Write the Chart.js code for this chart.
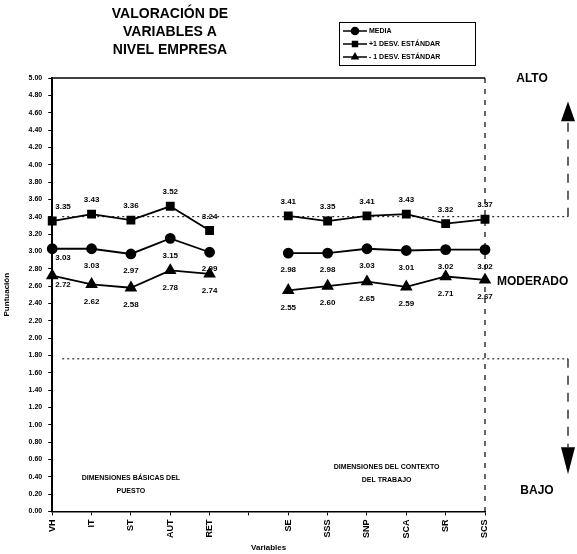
<!DOCTYPE html>
<html>
<head>
<meta charset="utf-8">
<script src="https://cdn.jsdelivr.net/npm/chart.js@4.4.1/dist/chart.umd.min.js"></script>
<style>
  html, body { margin: 0; padding: 0; background: #fff; }
  #wrap { width: 577px; height: 554px; }
</style>
</head>
<body>
<div id="wrap"><canvas id="chart"></canvas></div>
<script>
// categories (one empty slot separates the two groups)
const variables = ['VH', 'IT', 'ST', 'AUT', 'RET', '', 'SE', 'SSS', 'SNP', 'SCA', 'SR', 'SCS'];
const media = [3.03, 3.03, 2.97, 3.15, 2.99, null, 2.98, 2.98, 3.03, 3.01, 3.02, 3.02];
const masDesv = [3.35, 3.43, 3.36, 3.52, 3.24, null, 3.41, 3.35, 3.41, 3.43, 3.32, 3.37];
const menosDesv = [2.72, 2.62, 2.58, 2.78, 2.74, null, 2.55, 2.60, 2.65, 2.59, 2.71, 2.67];
const seriesNames = ['MEDIA', '+1 DESV. ESTÁNDAR', '- 1 DESV. ESTÁNDAR'];
const titleLines = ['VALORACIÓN DE', 'VARIABLES A', 'NIVEL EMPRESA'];
const zoneAlto = 3.40;
const zoneBajo = 1.76;

const FONT = '"Liberation Sans", Arial, sans-serif';

const decor = {
  id: 'decor',
  afterDatasetsDraw(chart) {
    const ctx = chart.ctx;
    const a = chart.chartArea;
    const y = chart.scales.y;
    const x = chart.scales.x;
    const farX = a.right + 83;
    ctx.save();
    ctx.strokeStyle = '#000';
    ctx.fillStyle = '#000';

    // top border
    ctx.lineWidth = 1.5;
    ctx.beginPath();
    ctx.moveTo(a.left, a.top);
    ctx.lineTo(a.right, a.top);
    ctx.stroke();

    // right dashed border
    ctx.lineWidth = 1.2;
    ctx.setLineDash([5, 6]);
    ctx.beginPath();
    ctx.moveTo(a.right, a.top);
    ctx.lineTo(a.right, a.bottom);
    ctx.stroke();

    // zone lines
    ctx.lineWidth = 1;
    ctx.setLineDash([2, 3]);
    [zoneAlto, zoneBajo].forEach(v => {
      ctx.beginPath();
      ctx.moveTo(a.left + 10, y.getPixelForValue(v));
      ctx.lineTo(farX, y.getPixelForValue(v));
      ctx.stroke();
    });

    // vertical arrow stems
    ctx.setLineDash([9, 8]);
    ctx.lineWidth = 1.2;
    ctx.beginPath();
    ctx.moveTo(farX, y.getPixelForValue(zoneAlto));
    ctx.lineTo(farX, y.getPixelForValue(4.5));
    ctx.moveTo(farX, y.getPixelForValue(zoneBajo));
    ctx.lineTo(farX, y.getPixelForValue(0.74));
    ctx.stroke();
    ctx.setLineDash([]);

    // arrow heads
    ctx.beginPath();
    ctx.moveTo(farX, y.getPixelForValue(4.73));
    ctx.lineTo(farX - 7, y.getPixelForValue(4.5));
    ctx.lineTo(farX + 7, y.getPixelForValue(4.5));
    ctx.closePath();
    ctx.fill();
    ctx.beginPath();
    ctx.moveTo(farX, y.getPixelForValue(0.43));
    ctx.lineTo(farX - 7, y.getPixelForValue(0.74));
    ctx.lineTo(farX + 7, y.getPixelForValue(0.74));
    ctx.closePath();
    ctx.fill();

    // zone names
    ctx.font = 'bold 12px ' + FONT;
    ctx.textBaseline = 'middle';
    ctx.textAlign = 'center';
    ctx.fillText('ALTO', a.right + 47, y.getPixelForValue(4.99));
    ctx.fillText('BAJO', a.right + 52, y.getPixelForValue(0.24));
    ctx.textAlign = 'left';
    ctx.fillText('MODERADO', a.right + 12, y.getPixelForValue(2.65));

    // group captions
    ctx.font = 'bold 7px ' + FONT;
    ctx.textAlign = 'center';
    const g1 = (x.getPixelForValue(0) + x.getPixelForValue(4)) / 2;
    const g2 = (x.getPixelForValue(6) + x.getPixelForValue(11)) / 2;
    ctx.fillText('DIMENSIONES BÁSICAS DEL', g1, y.getPixelForValue(0.38));
    ctx.fillText('PUESTO', g1, y.getPixelForValue(0.23));
    ctx.fillText('DIMENSIONES DEL CONTEXTO', g2, y.getPixelForValue(0.51));
    ctx.fillText('DEL TRABAJO', g2, y.getPixelForValue(0.36));

    // value labels
    ctx.font = 'bold 8px ' + FONT;
    chart.data.datasets.forEach((ds, di) => {
      const meta = chart.getDatasetMeta(di);
      meta.data.forEach((pt, i) => {
        const v = ds.data[i];
        if (v === null) return;
        const dy = di === 1 ? -14 : (i === 0 ? 9 : 17);
        ctx.textAlign = i === 0 ? 'left' : 'center';
        const px = i === 0 ? pt.x + 3 : pt.x;
        ctx.fillText(v.toFixed(2), px, pt.y + dy);
      });
    });

    // title
    ctx.font = 'bold 14px ' + FONT;
    ctx.textAlign = 'center';
    titleLines.forEach((t, i) => ctx.fillText(t, 170, 14 + i * 18));

    // legend box
    ctx.lineWidth = 1;
    ctx.strokeRect(339.5, 22.5, 136, 43);
    ctx.font = 'bold 7px ' + FONT;
    ctx.textAlign = 'left';
    chart.data.datasets.forEach((ds, di) => {
      const ly = 31 + di * 13;
      ctx.lineWidth = 1.5;
      ctx.beginPath();
      ctx.moveTo(343, ly);
      ctx.lineTo(367, ly);
      ctx.stroke();
      Chart.helpers.drawPoint(ctx, { pointStyle: ds.pointStyle, radius: 3.5, borderWidth: 1 }, 355, ly);
      ctx.fill();
      ctx.fillText(seriesNames[di], 369, ly);
    });
    ctx.restore();
  }
};

new Chart(document.getElementById('chart'), {
  type: 'line',
  data: {
    labels: variables,
    datasets: [
      { label: seriesNames[0], data: media, pointStyle: 'circle', pointRadius: 4.5 },
      { label: seriesNames[1], data: masDesv, pointStyle: 'rect', pointRadius: 5 },
      { label: seriesNames[2], data: menosDesv, pointStyle: 'triangle', pointRadius: 5.5 }
    ].map(d => Object.assign(d, {
      borderColor: '#000',
      backgroundColor: '#000',
      pointBackgroundColor: '#000',
      pointBorderColor: '#000',
      borderWidth: 1.8,
      spanGaps: false,
      tension: 0
    }))
  },
  options: {
    responsive: true,
    maintainAspectRatio: false,
    animation: false,
    layout: { padding: { left: 2, right: 92, top: 78, bottom: 1 } },
    plugins: { legend: { display: false }, tooltip: { enabled: false } },
    scales: {
      x: {
        offset: false,
        grid: { drawOnChartArea: false, color: '#000', tickLength: 4 },
        border: { color: '#000', width: 1.5 },
        ticks: {
          color: '#000', font: { family: FONT, size: 9, weight: 'bold' },
          maxRotation: 90, minRotation: 90, autoSkip: false, padding: 4
        },
        title: {
          display: true, text: 'Variables', color: '#000',
          font: { family: FONT, size: 8, weight: 'bold' }, padding: { top: 1, bottom: 0 }
        }
      },
      y: {
        min: 0, max: 5,
        grid: { drawOnChartArea: false, color: '#000', tickLength: 4 },
        border: { color: '#000', width: 2 },
        ticks: {
          stepSize: 0.2, color: '#000', padding: 6,
          font: { family: FONT, size: 7, weight: 'bold' },
          callback: v => Number(v).toFixed(2)
        },
        title: {
          display: true, text: 'Puntuación', color: '#000',
          font: { family: FONT, size: 8, weight: 'bold' }, padding: { top: 0, bottom: 11 }
        }
      }
    }
  },
  plugins: [decor]
});
</script>
</body>
</html>
